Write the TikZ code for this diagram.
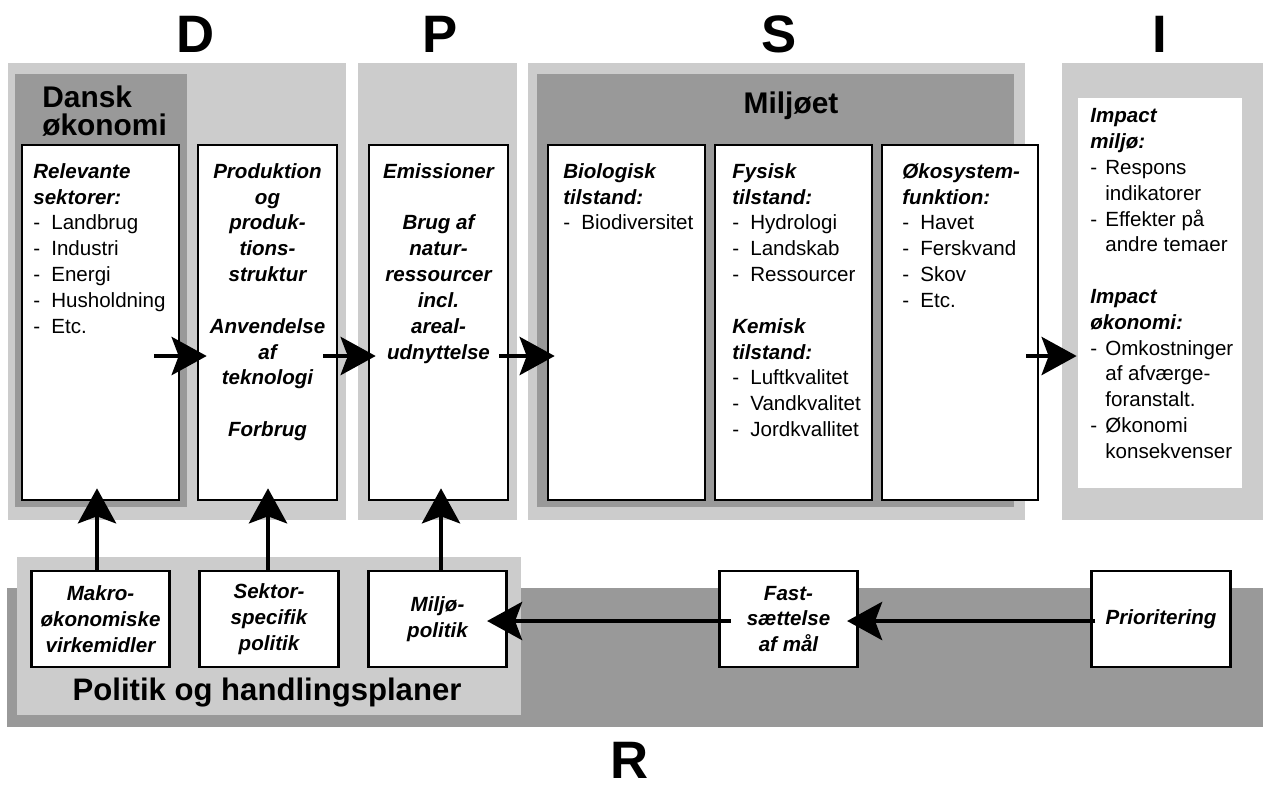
\documentclass[tikz,border=0pt]{standalone}
\usepackage{fontspec}
\setmainfont{Liberation Sans}
\usetikzlibrary{arrows.meta,calc}

\definecolor{panelgrey}{gray}{0.8}
\definecolor{shadegrey}{gray}{0.6}

% list helpers: bold-italic heading line, dashed item, continued item
\newcommand\hd[1]{\textbf{\textit{#1}}}
\newcommand\itm[1]{\makebox[0.36cm][l]{-}#1}
\newcommand\itmI[1]{\makebox[0.30cm][l]{-}#1}
\newcommand\contI[1]{\hspace*{0.30cm}#1}

\tikzset{
  panel/.style={fill=panelgrey, draw=none},
  shade/.style={fill=shadegrey, draw=none},
  card/.style={draw=black, line width=1.5pt, fill=white, inner sep=0pt},
  tallcard/.style={card, minimum height=7.1cm},
  lowcard/.style={card, minimum width=2.77cm, minimum height=1.92cm,
    font=\fontsize{11.7}{14.7}\selectfont\bfseries\itshape, align=center},
  body/.style={font=\fontsize{11.7}{14.7}\selectfont, inner sep=0pt, align=left},
  middle/.style={font=\fontsize{11.7}{14.7}\selectfont\bfseries\itshape,
    inner sep=0pt, align=center},
  title/.style={font=\fontsize{17}{15.9}\selectfont\bfseries, inner sep=0pt},
  letter/.style={font=\fontsize{30}{30}\selectfont\bfseries, inner sep=0pt, anchor=base},
  flow/.style={line width=2.8pt,
    -{Stealth[length=0.70cm, width=0.76cm, inset=0.14cm]}},
}

\begin{document}
\begin{tikzpicture}[x=0.02cm, y=-0.02cm]
\useasboundingbox (0,0) rectangle (1263,789);

% ---- DPSIR column letters
\node[letter] (lD) at (196,52) {D};
\node[letter] (lP) at (440,52) {P};
\node[letter] (lS) at (779,52) {S};
\node[letter] (lI) at (1160,52) {I};
\node[letter] (lR) at (630,778) {R};

% ---- background panels
\fill[panel] (8,63) rectangle (346,520);
\fill[shade] (15,74) rectangle (187,507);
\fill[panel] (358,63) rectangle (517,520);
\fill[panel] (528,63) rectangle (1025,520);
\fill[shade] (537,74) rectangle (1014,507);
\fill[panel] (1062,63) rectangle (1263,520);

\fill[shade] (7,588) rectangle (1263,727);
\fill[panel] (17,557) rectangle (521,715);

% ---- panel titles
\node[title, anchor=north west, align=left] (dk) at (42,82.3)
  {\rule{0pt}{14pt}Dansk\\økonomi};
\node[title, anchor=base] (mj) at (791,113) {Miljøet};
\node[font=\fontsize{17.7}{20}\selectfont\bfseries, inner sep=0pt, anchor=base]
  (ph) at (267,700) {Politik og handlingsplaner};

% ---- driver / pressure / state boxes
\node[tallcard, minimum width=3.14cm] (b1) at (100.5,322.5) {};
\node[tallcard, minimum width=2.78cm] (b2) at (267.5,322.5) {};
\node[tallcard, minimum width=2.78cm] (b3) at (438.5,322.5) {};
\node[tallcard, minimum width=3.14cm] (b4) at (626.5,322.5) {};
\node[tallcard, minimum width=3.14cm] (b5) at (793.5,322.5) {};
\node[tallcard, minimum width=3.12cm] (b6) at (960,322.5) {};
\node[fill=white, inner sep=0pt, minimum width=3.28cm, minimum height=7.8cm]
  (ib) at (1160,293) {};

% ---- box contents
\node[body, anchor=north west] (b1t) at (33,158.6)
  {\rule{0pt}{11pt}\hd{Relevante}\\\hd{sektorer:}\\\itm{Landbrug}\\\itm{Industri}\\
   \itm{Energi}\\\itm{Husholdning}\\\itm{Etc.}};
\node[middle, anchor=north] (b2t) at (267.5,158.6)
  {\rule{0pt}{11pt}Produktion\\og\\produk-\\tions-\\struktur\\[14.7pt]
   Anvendelse\\af\\teknologi\\[14.7pt]Forbrug};
\node[middle, anchor=north] (b3t) at (438.5,158.6)
  {\rule{0pt}{11pt}Emissioner\\[14.7pt]Brug af\\natur-\\ressourcer\\incl.\\
   areal-\\udnyttelse};
\node[body, anchor=north west] (b4t) at (563,158.6)
  {\rule{0pt}{11pt}\hd{Biologisk}\\\hd{tilstand:}\\\itm{Biodiversitet}};
\node[body, anchor=north west] (b5t) at (732,158.6)
  {\rule{0pt}{11pt}\hd{Fysisk}\\\hd{tilstand:}\\\itm{Hydrologi}\\\itm{Landskab}\\
   \itm{Ressourcer}\\[14.7pt]\hd{Kemisk}\\\hd{tilstand:}\\\itm{Luftkvalitet}\\
   \itm{Vandkvalitet}\\\itm{Jordkvallitet}};
\node[body, anchor=north west] (b6t) at (902,158.6)
  {\rule{0pt}{11pt}\hd{Økosystem-}\\\hd{funktion:}\\\itm{Havet}\\\itm{Ferskvand}\\
   \itm{Skov}\\\itm{Etc.}};
\node[body, anchor=north west] (ibt) at (1090,103)
  {\rule{0pt}{11pt}\hd{Impact}\\\hd{miljø:}\\\itmI{Respons}\\\contI{indikatorer}\\
   \itmI{Effekter på}\\\contI{andre temaer}\\[14.7pt]\hd{Impact}\\\hd{økonomi:}\\
   \itmI{Omkostninger}\\\contI{af afværge-}\\\contI{foranstalt.}\\
   \itmI{Økonomi}\\\contI{konsekvenser}};

% ---- response boxes
\node[lowcard] (mk) at (100.5,619) {Makro-\\økonomiske\\virkemidler};
\node[lowcard] (sk) at (269,619) {Sektor-\\specifik\\politik};
\node[lowcard] (mp) at (437.5,619) {Miljø-\\politik};
\node[lowcard] (fm) at (788.5,619) {Fast-\\sættelse\\af mål};
\node[lowcard] (pr) at (1161,619) {Prioritering};

% ---- causal chain
\coordinate (chain) at (0,356);
\draw[flow] ($(b1.east |- chain)+(-26,0)$) -- ($(b2.west |- chain)+(10,0)$);
\draw[flow] ($(b2.east |- chain)+(-15,0)$) -- ($(b3.west |- chain)+(8,0)$);
\draw[flow] ($(b3.east |- chain)+(-10,0)$) -- ($(b4.west |- chain)+(8,0)$);
\draw[flow] ($(b6.east |- chain)+(-13,0)$) -- ($(ib.west |- chain)+(-1,0)$);

% ---- policy feedback
\coordinate (resp) at (0,621);
\draw[flow] ($(pr.west |- resp)+(5,0)$) -- ($(fm.east |- resp)+(-12,0)$);
\draw[flow] ($(fm.west |- resp)+(13,0)$) -- ($(mp.east |- resp)+(-21,0)$);

\draw[flow] ($(mk.north)+(-3.5,0)$) -- ($(mk.north |- b1.south)+(-3.5,-13)$);
\draw[flow] ($(sk.north)+(-1,0)$) -- ($(sk.north |- b2.south)+(-1,-13)$);
\draw[flow] ($(mp.north)+(3.5,0)$) -- ($(mp.north |- b3.south)+(3.5,-13)$);
\end{tikzpicture}
\end{document}
